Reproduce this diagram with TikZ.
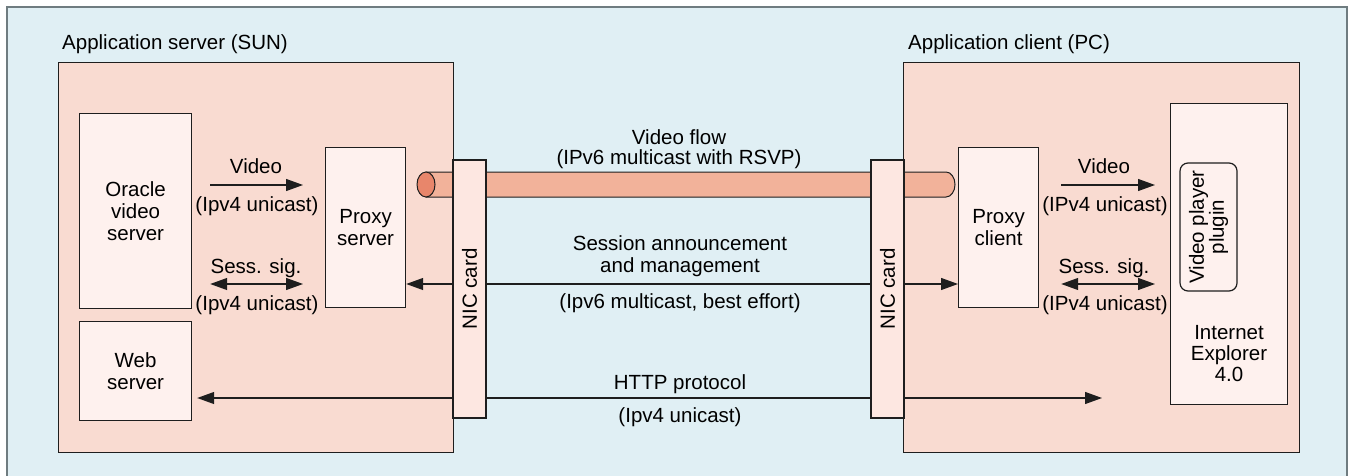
\documentclass[tikz,border=0pt]{standalone}
\usepackage{fontspec}
\setmainfont{Liberation Sans}
\usetikzlibrary{arrows.meta}
\definecolor{bgblue}{HTML}{E0EFF4}
\definecolor{frameline}{HTML}{6F7C80}
\definecolor{hostfill}{HTML}{F9DBD1}
\definecolor{innerfill}{HTML}{FEF1EE}
\definecolor{nicfill}{HTML}{FDE7E1}
\definecolor{tubefill}{HTML}{F2B29A}
\definecolor{tubeend}{HTML}{E8866B}
\definecolor{inkline}{HTML}{1E1E1E}
\tikzset{
  hostbox/.style={draw=inkline, line width=1.2pt, fill=hostfill, inner sep=0pt, anchor=north west},
  unitbox/.style={draw=inkline, line width=1.2pt, fill=innerfill, inner sep=0pt, anchor=north west, align=center},
  nicbox/.style={draw=inkline, line width=1.2pt, fill=nicfill, inner sep=0pt, rotate=90,
                 minimum width=258pt, minimum height=33pt},
  txt/.style={inner sep=0pt, anchor=base, align=center},
  onearrow/.style={-{Triangle[length=17pt,width=12pt]}, line width=1.2pt, draw=inkline},
  twoarrow/.style={{Triangle[length=17pt,width=12pt]}-{Triangle[length=17pt,width=12pt]}, line width=1.2pt, draw=inkline},
}
\begin{document}
\begin{tikzpicture}[x=1pt, y=-1pt, font=\fontsize{20.5}{22}\selectfont]
\useasboundingbox (0,0) rectangle (1351,476);
\clip (0,0) rectangle (1351,476);

% outer panel
\fill[bgblue] (7,7) rectangle (1347,490);
\draw[frameline, line width=2pt] (7,490) -- (7,7) -- (1347,7) -- (1347,490);

% hosts
\node[hostbox, minimum width=395pt, minimum height=390pt] (server) at (58,62) {};
\node[hostbox, minimum width=396pt, minimum height=390pt] (client) at (903,62) {};
\node[txt, anchor=base west] (serverlbl) at (62,50) {Application server (SUN)};
\node[txt, anchor=base west] (clientlbl) at (908,50) {Application client (PC)};

% rows of the connectors
\coordinate (rowVid) at (0,185);
\coordinate (rowSess) at (0,284);
\coordinate (rowHttp) at (0,398);
\coordinate (httpEnd) at (1102,398);

% software units
\node[unitbox, minimum width=112pt, minimum height=195pt] (oracle) at (79,113) {Oracle\\video\\server};
\node[unitbox, minimum width=80pt, minimum height=160pt] (proxyS) at (325,147) {Proxy\\server};
\node[unitbox, minimum width=112pt, minimum height=99pt] (web) at (79,321) {Web\\server};
\node[unitbox, minimum width=80pt, minimum height=160pt] (proxyC) at (958,147) {Proxy\\client};
\node[unitbox, minimum width=117pt, minimum height=301pt] (ie) at (1170,103) {};
\node[txt, font=\fontsize{20.5}{21}\selectfont] (ietext) at (1229,381) {Internet\\Explorer\\4.0};
\node[draw=inkline, line width=1.2pt, fill=innerfill, rounded corners=8pt, rotate=90,
      minimum width=128pt, minimum height=57pt, inner sep=0pt, align=center,
      font=\fontsize{20.5}{20}\selectfont] (plugin) at (1208.5,227) {Video player\\plugin};

% video tube
\filldraw[fill=tubefill, draw=inkline, line width=1pt]
  (426,172) -- (946,172) arc[start angle=-90, end angle=90, x radius=9, y radius=12.5] -- (426,197) -- cycle;
\filldraw[fill=tubeend, draw=inkline, line width=1pt] (426,184.5) ellipse[x radius=9, y radius=12.5];

% network connectors
\draw[twoarrow] (proxyS.east |- rowSess) -- (proxyC.west |- rowSess);
\draw[twoarrow, shorten <=5pt] (web.east |- rowHttp) -- (httpEnd);

% NIC cards
\node[nicbox] (nicL) at (469.5,289) {NIC card};
\node[nicbox] (nicR) at (887.5,289) {NIC card};

% local connectors
\draw[onearrow, shorten <=18pt, shorten >=22pt] (oracle.east |- rowVid) -- (proxyS.west |- rowVid);
\draw[twoarrow, shorten <=18pt, shorten >=22pt] (oracle.east |- rowSess) -- (proxyS.west |- rowSess);
\draw[onearrow, shorten <=22pt, shorten >=15pt] (proxyC.east |- rowVid) -- (ie.west |- rowVid);
\draw[twoarrow, shorten <=22pt, shorten >=15pt] (proxyC.east |- rowSess) -- (ie.west |- rowSess);

% connector labels
\node[txt] (lv1) at (256,173) {Video};
\node[txt] (lv2) at (257,211) {(Ipv4 unicast)};
\node[txt] (ls1) at (256,273) {Sess. sig.};
\node[txt] (ls2) at (257,310) {(Ipv4 unicast)};
\node[txt] (rv1) at (1104,173) {Video};
\node[txt] (rv2) at (1105,211) {(IPv4 unicast)};
\node[txt] (rs1) at (1104,273) {Sess. sig.};
\node[txt] (rs2) at (1105,310) {(IPv4 unicast)};
\node[txt, font=\fontsize{20.5}{20}\selectfont] (vf) at (679,164) {Video flow\\(IPv6 multicast with RSVP)};
\node[txt] (sa) at (680,272) {Session announcement\\and management};
\node[txt] (sb) at (680,308) {(Ipv6 multicast, best effort)};
\node[txt] (h1) at (680,389) {HTTP protocol};
\node[txt] (h2) at (680,422) {(Ipv4 unicast)};
\end{tikzpicture}
\end{document}
